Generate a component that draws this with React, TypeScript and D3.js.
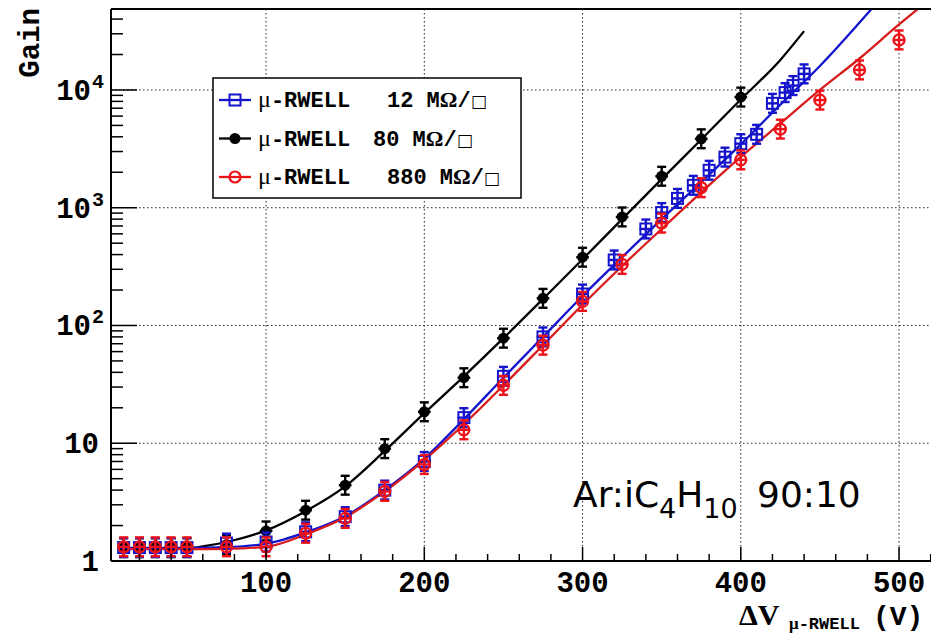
import React from 'react';
import * as d3 from 'd3';

// ---------- data ----------
const voltsBlue = [10, 20, 30, 40, 50, 75, 100, 125, 150, 175, 200, 225, 250, 275, 300, 320, 340, 350, 360, 370, 380, 390, 400, 410, 420, 428, 433, 440];
const gainBlue = [1.3, 1.3, 1.3, 1.3, 1.3, 1.42, 1.45, 1.77, 2.38, 4.0, 7.0, 16.5, 37, 80, 185, 360, 660, 910, 1200, 1550, 2080, 2690, 3500, 4200, 7700, 9500, 10900, 13700];

const voltsBlack = [10, 20, 30, 40, 50, 75, 100, 125, 150, 175, 200, 225, 250, 275, 300, 325, 350, 375, 400];
const gainBlack = [1.3, 1.3, 1.3, 1.3, 1.3, 1.38, 1.8, 2.7, 4.4, 9.0, 18.5, 36, 78, 170, 380, 835, 1850, 3850, 8700];

const voltsRed = [10, 20, 30, 40, 50, 75, 100, 125, 150, 175, 200, 225, 250, 275, 300, 325, 350, 375, 400, 425, 450, 475, 500];
const gainRed = [1.32, 1.32, 1.32, 1.32, 1.32, 1.32, 1.32, 1.72, 2.3, 3.9, 6.6, 13, 31, 68, 160, 330, 740, 1480, 2550, 4650, 8200, 14800, 26600];

// fitted curves
const fitVoltsBlack = [10, 50, 60, 75, 100, 125, 150, 175, 200, 225, 250, 275, 300, 325, 350, 375, 400, 425, 440];
const fitGainBlack = [1.28, 1.28, 1.33, 1.45, 1.82, 2.65, 4.3, 8.6, 18, 37, 78, 168, 365, 800, 1750, 3800, 8300, 18000, 31600];

const fitVoltsBlue = [10, 50, 75, 100, 125, 150, 175, 200, 225, 250, 275, 300, 325, 350, 375, 400, 425, 450, 486];
const fitGainBlue = [1.29, 1.29, 1.31, 1.4, 1.75, 2.4, 4.0, 7.4, 16, 36, 80, 178, 380, 800, 1650, 3450, 7500, 16000, 55000];

const fitVoltsRed = [10, 50, 75, 100, 125, 150, 175, 200, 225, 250, 275, 300, 325, 350, 375, 400, 425, 450, 475, 500, 516];
const fitGainRed = [1.26, 1.26, 1.27, 1.32, 1.68, 2.35, 3.9, 7.2, 14.5, 31, 68, 150, 320, 660, 1350, 2700, 5200, 10000, 18500, 36000, 54000];

const xTickValues = [100, 200, 300, 400, 500];
const xTickLabels = ['100', '200', '300', '400', '500'];
const yTickValues = [1, 10, 100, 1000, 10000];
const yTickBase = ['1', '10', '10', '10', '10'];
const yTickExp = ['', '', '2', '3', '4'];

const legendResist = ['12', '80', '880'];

const logErr = 0.08; // error-bar half length in decades
const voltErr = 4; // horizontal error half width in V

// ---------- layout ----------
const W = 931;
const H = 634;
const plotLeft = 111;
const plotRight = 938.6;
const plotTop = 9;
const plotBottom = 561;

const BLUE = '#1414cc';
const RED = '#ec1218';
const REDLINE = '#d81c1c';
const MONO = 'Liberation Mono, Courier New, monospace';
const SERIF = 'Liberation Serif, Times New Roman, serif';

export default function App() {
  const x = d3.scaleLinear().domain([2, 525]).range([plotLeft, plotRight]);
  const y = d3.scaleLog().domain([1, 48700]).range([plotBottom, plotTop]);

  const line = d3
    .line<[number, number]>()
    .x((d) => x(d[0]))
    .y((d) => y(d[1]))
    .curve(d3.curveMonotoneX);

  const zip = (a: number[], b: number[]) => a.map((v, i) => [v, b[i]] as [number, number]);

  const xMinor = d3.range(20, 525, 20).filter((v) => v % 100 !== 0);
  const yMinor: number[] = [];
  for (let e = 0; e < 5; e++) {
    for (let m = 2; m <= 9; m++) {
      const v = m * Math.pow(10, e);
      if (v < 48700) yMinor.push(v);
    }
  }

  const errBars = (vs: number[], gs: number[], color: string, key: string) =>
    vs.map((v, i) => {
      const cx = x(v);
      const cy = y(gs[i]);
      const yHi = y(gs[i] * Math.pow(10, logErr));
      const yLo = y(gs[i] / Math.pow(10, logErr));
      return (
        <g key={key + i} stroke={color} strokeWidth={2.4}>
          <line x1={cx} x2={cx} y1={yHi} y2={yLo} />
          <line x1={cx - 4.5} x2={cx + 4.5} y1={yHi} y2={yHi} />
          <line x1={cx - 4.5} x2={cx + 4.5} y1={yLo} y2={yLo} />
          <line x1={x(v - voltErr)} x2={x(v + voltErr)} y1={cy} y2={cy} />
        </g>
      );
    });

  const legendRows = [
    { color: BLUE, kind: 'square', numX: 387 },
    { color: '#000', kind: 'dot', numX: 373 },
    { color: RED, kind: 'circle', numX: 387 },
  ];

  const marker = (kind: string, cx: number, cy: number, color: string, key: string) => {
    if (kind === 'square')
      return <rect key={key} x={cx - 5.5} y={cy - 5.5} width={11} height={11} fill="none" stroke={color} strokeWidth={2} />;
    if (kind === 'dot') return <circle key={key} cx={cx} cy={cy} r={5.5} fill={color} />;
    return <circle key={key} cx={cx} cy={cy} r={5.5} fill="none" stroke={color} strokeWidth={2.2} />;
  };

  return (
    <svg width={W} height={H} style={{ position: 'absolute', left: 0, top: 0, background: '#fff' }}>
      <defs>
        <clipPath id="plotclip">
          <rect x={plotLeft} y={plotTop} width={plotRight - plotLeft} height={plotBottom - plotTop} />
        </clipPath>
      </defs>
      <rect x={0} y={0} width={W} height={H} fill="#fff" />

      {/* grid */}
      <g stroke="#222" strokeWidth={1} strokeDasharray="1.5,2.5">
        {xTickValues.map((v) => (
          <line key={'gx' + v} x1={x(v)} x2={x(v)} y1={plotTop} y2={plotBottom} />
        ))}
        {yTickValues.slice(1).map((v) => (
          <line key={'gy' + v} x1={plotLeft} x2={plotRight} y1={y(v)} y2={y(v)} />
        ))}
      </g>

      {/* fit curves */}
      <g clipPath="url(#plotclip)" fill="none" strokeWidth={2.3}>
        <path d={line(zip(fitVoltsBlack, fitGainBlack)) || ''} stroke="#000" />
        <path d={line(zip(fitVoltsBlue, fitGainBlue)) || ''} stroke={BLUE} />
        <path d={line(zip(fitVoltsRed, fitGainRed)) || ''} stroke={REDLINE} />
      </g>

      {/* data points */}
      <g>
        {errBars(voltsBlack, gainBlack, '#000', 'eb')}
        {voltsBlack.map((v, i) => marker('dot', x(v), y(gainBlack[i]), '#000', 'mb' + i))}
        {errBars(voltsBlue, gainBlue, BLUE, 'eu')}
        {voltsBlue.map((v, i) => marker('square', x(v), y(gainBlue[i]), BLUE, 'mu' + i))}
        {errBars(voltsRed, gainRed, RED, 'er')}
        {voltsRed.map((v, i) => marker('circle', x(v), y(gainRed[i]), RED, 'mr' + i))}
      </g>

      {/* frame */}
      <g stroke="#000" strokeWidth={2}>
        <line x1={plotLeft} x2={plotLeft} y1={plotTop} y2={plotBottom} />
        <line x1={plotLeft} x2={W} y1={plotBottom} y2={plotBottom} />
        <line x1={plotLeft} x2={W} y1={plotTop} y2={plotTop} />
      </g>
      <g stroke="#000" strokeWidth={1.5}>
        {xTickValues.map((v) => (
          <line key={'tx' + v} x1={x(v)} x2={x(v)} y1={plotBottom} y2={plotBottom - 14} />
        ))}
        {xMinor.map((v) => (
          <line key={'mx' + v} x1={x(v)} x2={x(v)} y1={plotBottom} y2={plotBottom - 7} />
        ))}
        {yTickValues.map((v) => (
          <line key={'ty' + v} x1={plotLeft} x2={plotLeft + 26} y1={y(v)} y2={y(v)} />
        ))}
        {yMinor.map((v) => (
          <line key={'my' + v} x1={plotLeft} x2={plotLeft + 12} y1={y(v)} y2={y(v)} />
        ))}
      </g>

      {/* tick labels */}
      <g fontFamily={MONO} fontWeight="bold" fill="#000">
        {xTickValues.map((v, i) => (
          <text key={'lx' + v} x={x(v)} y={592} fontSize={29} textAnchor="middle">
            {xTickLabels[i]}
          </text>
        ))}
        {yTickValues.map((v, i) => (
          <text key={'ly' + v} x={yTickExp[i] ? 91 : 99} y={y(v) + 10} fontSize={29} textAnchor="end">
            {yTickBase[i]}
          </text>
        ))}
        {yTickValues.map((v, i) =>
          yTickExp[i] ? (
            <text key={'le' + v} x={92} y={y(v) - 2} fontSize={20}>
              {yTickExp[i]}
            </text>
          ) : null
        )}
      </g>

      {/* axis titles */}
      <text
        transform={`translate(39, 8) rotate(-90)`}
        textAnchor="end"
        fontFamily={MONO}
        fontWeight="bold"
        fontSize={29}
      >
        Gain
      </text>
      <text x={739} y={625} fontFamily={SERIF} fontWeight="bold" fontSize={30}>
        ΔV
      </text>
      <text x={789} y={629} fontFamily={MONO} fontWeight="bold" fontSize={17}>
        <tspan fontFamily={SERIF}>μ</tspan>-RWELL
      </text>
      <text x={873} y={625} fontFamily={MONO} fontWeight="bold" fontSize={28}>
        (V)
      </text>

      {/* legend */}
      <g>
        <rect x={213} y={78} width={308} height={120} fill="#fff" stroke="#000" strokeWidth={1.5} />
        {legendRows.map((r, i) => {
          const ry = 100 + i * 38.5;
          return (
            <g key={'leg' + i}>
              <line x1={219} x2={251} y1={ry} y2={ry} stroke={r.color} strokeWidth={2.3} />
              {marker(r.kind, 235, ry, r.color, 'lm' + i)}
              <text x={258} y={ry + 7} fontFamily={MONO} fontWeight="bold" fontSize={22}>
                <tspan fontFamily={SERIF} fontWeight="normal" fontSize={24}>
                  μ
                </tspan>
                -RWELL
              </text>
              <text x={r.numX} y={ry + 7} fontFamily={MONO} fontWeight="bold" fontSize={22}>
                {legendResist[i]} M<tspan fontFamily={SERIF}>Ω</tspan>/
                <tspan fontFamily="DejaVu Sans" fontWeight="bold" fontSize={17}>□</tspan>
              </text>
            </g>
          );
        })}
      </g>

      {/* annotation */}
      <text x={573} y={507} fontFamily="DejaVu Sans" fontSize={36} fill="#000">
        Ar:iC
        <tspan fontSize={27} dy={11}>
          4
        </tspan>
        <tspan dy={-11}>H</tspan>
        <tspan fontSize={27} dy={11}>
          10
        </tspan>
        <tspan x={757} dy={-11}>
          90:10
        </tspan>
      </text>
    </svg>
  );
}
